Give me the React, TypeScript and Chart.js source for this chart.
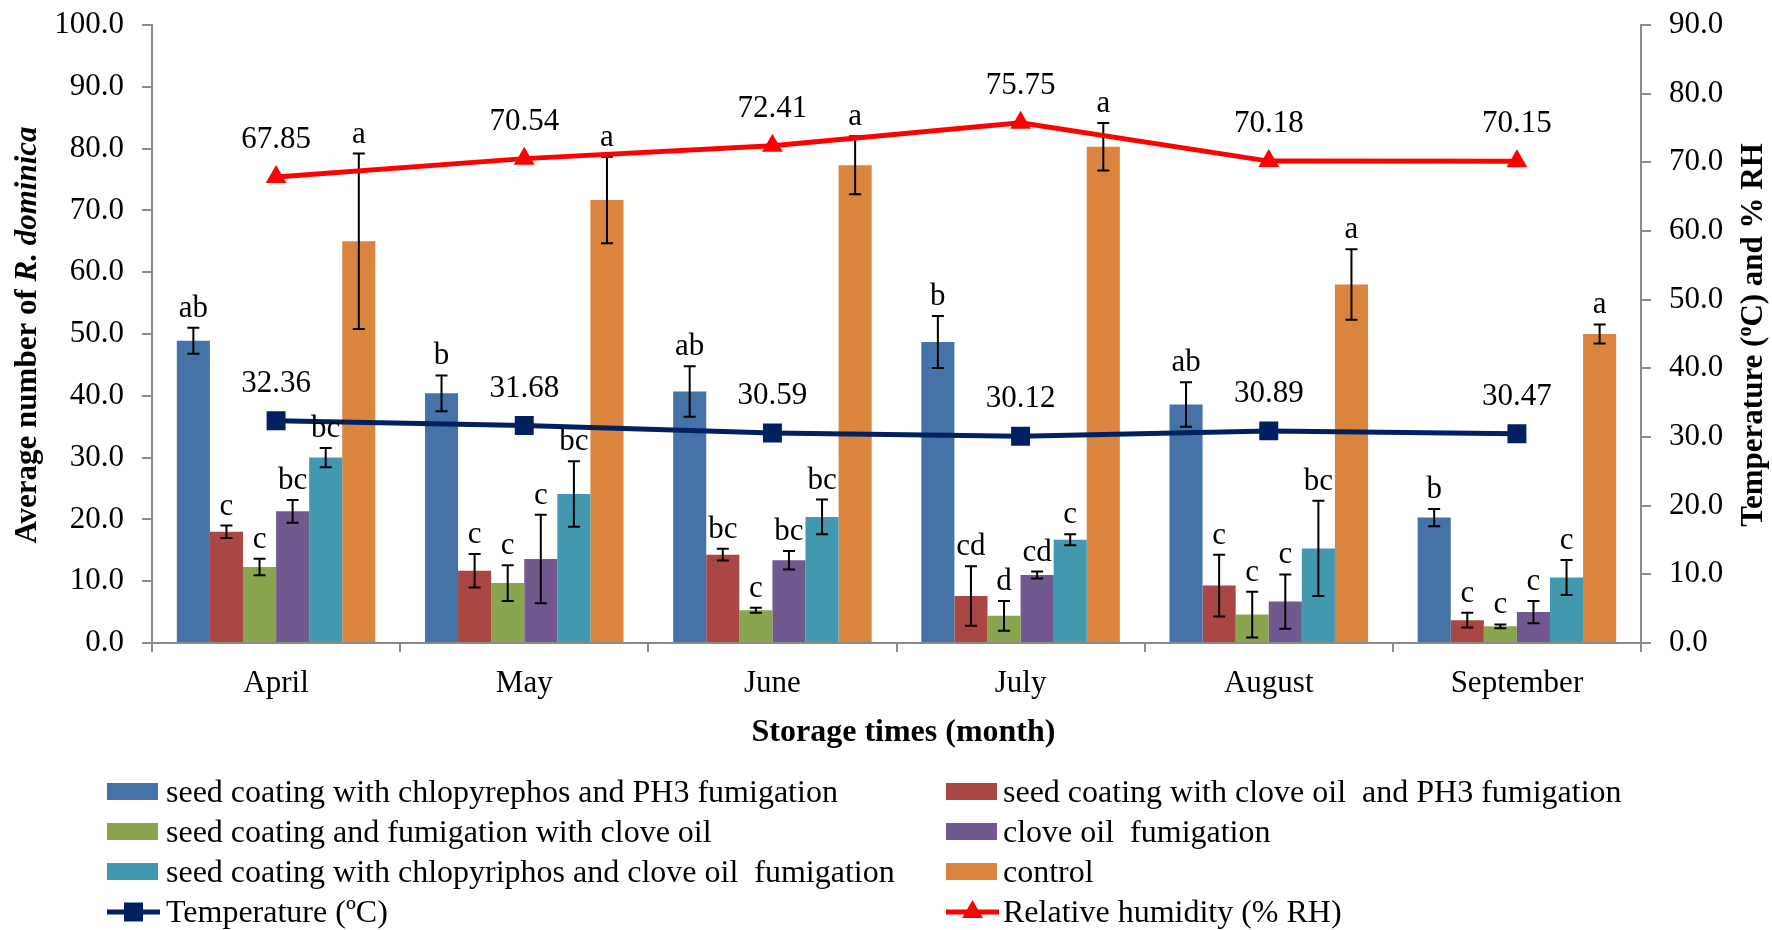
import React, { useEffect, useRef } from 'react';
import { Chart, registerables } from 'chart.js';

Chart.register(...registerables);

const FONT = '"Liberation Serif", "Times New Roman", Times, serif';
const AXIS = '#8a8a8a';

const months = ['April', 'May', 'June', 'July', 'August', 'September'];

const seriesNames = [
  'seed coating with chlopyrephos and PH3 fumigation',
  'seed coating with clove oil  and PH3 fumigation',
  'seed coating and fumigation with clove oil',
  'clove oil  fumigation',
  'seed coating with chlopyriphos and clove oil  fumigation',
  'control',
];
const seriesColors = ['#4572A7', '#AA4643', '#89A54E', '#71588F', '#4198AF', '#DB843D'];

const chlorPH3 = [48.9, 40.4, 40.7, 48.7, 38.6, 20.3];
const chlorPH3Err = [2.1, 2.9, 4.1, 4.2, 3.6, 1.4];
const chlorPH3Letters = ['ab', 'b', 'ab', 'b', 'ab', 'b'];

const cloveCoatPH3 = [18.0, 11.7, 14.3, 7.6, 9.3, 3.7];
const cloveCoatPH3Err = [1.0, 2.7, 0.95, 4.8, 5.0, 1.2];
const cloveCoatPH3Letters = ['c', 'c', 'bc', 'cd', 'c', 'c'];

const cloveCoatFum = [12.3, 9.7, 5.3, 4.4, 4.6, 2.7];
const cloveCoatFumErr = [1.35, 2.9, 0.4, 2.4, 3.7, 0.3];
const cloveCoatFumLetters = ['c', 'c', 'c', 'd', 'c', 'c'];

const cloveFum = [21.3, 13.6, 13.4, 11.0, 6.7, 5.0];
const cloveFumErr = [1.85, 7.15, 1.5, 0.55, 4.4, 1.8];
const cloveFumLetters = ['bc', 'c', 'bc', 'cd', 'c', 'c'];

const chlorClove = [30.0, 24.1, 20.4, 16.7, 15.3, 10.6];
const chlorCloveErr = [1.55, 5.3, 2.8, 0.9, 7.7, 2.85];
const chlorCloveLetters = ['bc', 'bc', 'bc', 'c', 'bc', 'c'];

const control = [65.0, 71.7, 77.3, 80.3, 58.0, 50.0];
const controlErr = [14.2, 7.0, 4.7, 3.85, 5.7, 1.55];
const controlLetters = ['a', 'a', 'a', 'a', 'a', 'a'];

const temperature = [32.36, 31.68, 30.59, 30.12, 30.89, 30.47];
const humidity = [67.85, 70.54, 72.41, 75.75, 70.18, 70.15];

const barValues = [chlorPH3, cloveCoatPH3, cloveCoatFum, cloveFum, chlorClove, control];
const barErrors = [chlorPH3Err, cloveCoatPH3Err, cloveCoatFumErr, cloveFumErr, chlorCloveErr, controlErr];
const barLetters = [chlorPH3Letters, cloveCoatPH3Letters, cloveCoatFumLetters, cloveFumLetters, chlorCloveLetters, controlLetters];

const W = 1772;
const H = 930;

const overlayPlugin = {
  id: 'overlay',
  afterDatasetDraw(chart: any, args: any) {
    const ds = chart.data.datasets[args.index];
    if (!ds.errors) return;
    const ctx = chart.ctx;
    const ys = chart.scales.y;
    ctx.save();
    ctx.strokeStyle = '#000';
    ctx.lineWidth = 2;
    args.meta.data.forEach((bar: any, i: number) => {
      const v = ds.data[i];
      const e = ds.errors[i];
      const top = ys.getPixelForValue(v + e);
      const bot = ys.getPixelForValue(Math.max(v - e, 0));
      const x = bar.x;
      ctx.beginPath();
      ctx.moveTo(x, top);
      ctx.lineTo(x, bot);
      ctx.moveTo(x - 6, top);
      ctx.lineTo(x + 6, top);
      ctx.moveTo(x - 6, bot);
      ctx.lineTo(x + 6, bot);
      ctx.stroke();
    });
    ctx.restore();
  },
  afterDatasetsDraw(chart: any) {
    const ctx = chart.ctx;
    ctx.save();
    ctx.fillStyle = '#000';
    ctx.font = `31px ${FONT}`;
    ctx.textAlign = 'center';
    chart.data.datasets.forEach((ds: any, di: number) => {
      const meta = chart.getDatasetMeta(di);
      if (ds.letters) {
        ctx.textBaseline = 'alphabetic';
        meta.data.forEach((bar: any, i: number) => {
          const top = chart.scales.y.getPixelForValue(ds.data[i] + ds.errors[i]);
          ctx.fillText(ds.letters[i], bar.x, top - 11);
        });
      } else if (ds.type === 'line') {
        ctx.textBaseline = 'middle';
        meta.data.forEach((pt: any, i: number) => {
          ctx.fillText(Number(ds.data[i]).toFixed(2), pt.x, pt.y - 37);
        });
      }
    });
    ctx.restore();
  },
  afterDraw(chart: any) {
    const ctx = chart.ctx;
    const area = chart.chartArea;
    ctx.save();
    ctx.fillStyle = '#000';
    ctx.textBaseline = 'alphabetic';

    // left axis title
    ctx.save();
    ctx.translate(36, 335);
    ctx.rotate(-Math.PI / 2);
    const p1 = 'Average number of ';
    const p2 = 'R. dominica';
    ctx.font = `bold 31px ${FONT}`;
    const w1 = ctx.measureText(p1).width;
    ctx.font = `italic bold 31px ${FONT}`;
    const w2 = ctx.measureText(p2).width;
    const sx = -(w1 + w2) / 2;
    ctx.textAlign = 'left';
    ctx.font = `bold 31px ${FONT}`;
    ctx.fillText(p1, sx, 0);
    ctx.font = `italic bold 31px ${FONT}`;
    ctx.fillText(p2, sx + w1, 0);
    ctx.restore();

    // right axis title
    ctx.save();
    ctx.translate(1762, 335);
    ctx.rotate(-Math.PI / 2);
    const r1 = 'Temperature (';
    const rs = 'o';
    const r2 = 'C) and % RH';
    ctx.font = `bold 31px ${FONT}`;
    const rw1 = ctx.measureText(r1).width;
    const rw2 = ctx.measureText(r2).width;
    ctx.font = `bold 20px ${FONT}`;
    const rws = ctx.measureText(rs).width;
    const rx = -(rw1 + rws + rw2) / 2;
    ctx.textAlign = 'left';
    ctx.font = `bold 31px ${FONT}`;
    ctx.fillText(r1, rx, 0);
    ctx.font = `bold 20px ${FONT}`;
    ctx.fillText(rs, rx + rw1, -11);
    ctx.font = `bold 31px ${FONT}`;
    ctx.fillText(r2, rx + rw1 + rws, 0);
    ctx.restore();

    // x axis title
    ctx.font = `bold 32px ${FONT}`;
    ctx.textAlign = 'center';
    ctx.fillText('Storage times (month)', (area.left + area.right) / 2 + 7, 741);

    // legend
    ctx.textAlign = 'left';
    ctx.font = `32px ${FONT}`;
    chart.data.datasets.forEach((ds: any, k: number) => {
      const row = Math.floor(k / 2);
      const col = k % 2;
      const base = 802 + 40 * row;
      const sx0 = col ? 946 : 107;
      const tx = col ? 1003 : 166;
      if (ds.type === 'line') {
        const cy = base - 10;
        ctx.strokeStyle = ds.borderColor;
        ctx.lineWidth = 5;
        ctx.beginPath();
        ctx.moveTo(sx0, cy);
        ctx.lineTo(sx0 + 53, cy);
        ctx.stroke();
        ctx.fillStyle = ds.borderColor;
        const cx = sx0 + 26.5;
        if (ds.pointStyle === 'rect') {
          ctx.fillRect(cx - 9.5, cy - 9.5, 19, 19);
        } else {
          ctx.beginPath();
          ctx.moveTo(cx, cy - 12);
          ctx.lineTo(cx + 10.4, cy + 6);
          ctx.lineTo(cx - 10.4, cy + 6);
          ctx.closePath();
          ctx.fill();
        }
      } else {
        ctx.fillStyle = ds.backgroundColor;
        ctx.fillRect(sx0, base - 19, 51, 17);
      }
      ctx.fillStyle = '#000';
      ctx.fillText(ds.label, tx, base);
    });
    ctx.restore();
  },
};

export default function App() {
  const canvasRef = useRef<HTMLCanvasElement | null>(null);

  useEffect(() => {
    if (!canvasRef.current) return;
    const barDatasets = barValues.map((vals, i) => ({
      type: 'bar' as const,
      label: seriesNames[i],
      data: vals,
      errors: barErrors[i],
      letters: barLetters[i],
      backgroundColor: seriesColors[i],
      borderWidth: 0,
      categoryPercentage: 0.8,
      barPercentage: 1.0,
      yAxisID: 'y',
      order: 1,
    }));
    const lineDatasets = [
      {
        type: 'line' as const,
        label: 'Temperature (ºC)',
        data: temperature,
        borderColor: '#002060',
        backgroundColor: '#002060',
        borderWidth: 5,
        pointStyle: 'rect',
        pointRadius: 13.4,
        pointBackgroundColor: '#002060',
        pointBorderColor: '#002060',
        pointBorderWidth: 0,
        yAxisID: 'y1',
        order: 0,
        tension: 0,
      },
      {
        type: 'line' as const,
        label: 'Relative humidity (% RH)',
        data: humidity,
        borderColor: '#FF0000',
        backgroundColor: '#FF0000',
        borderWidth: 5,
        pointStyle: 'triangle',
        pointRadius: 12,
        pointBackgroundColor: '#FF0000',
        pointBorderColor: '#FF0000',
        pointBorderWidth: 0,
        yAxisID: 'y1',
        order: 0,
        tension: 0,
      },
    ];

    const tickFont = { family: FONT, size: 31 };
    const fitY = (width: number) => (s: any) => {
      s.width = width;
      s.paddingTop = 0;
      s.paddingBottom = 0;
    };
    const chart = new Chart(canvasRef.current, {
      type: 'bar',
      data: {
        labels: months,
        datasets: [...barDatasets, ...lineDatasets] as any,
      },
      options: {
        responsive: false,
        animation: false,
        devicePixelRatio: 1,
        layout: { padding: { top: 25, left: 0, right: 0, bottom: 0 } },
        plugins: {
          legend: { display: false },
          tooltip: { enabled: false },
          title: { display: false },
        },
        scales: {
          x: {
            offset: true,
            grid: {
              offset: true,
              drawOnChartArea: false,
              drawTicks: true,
              tickLength: 9,
              color: AXIS,
              lineWidth: 2,
            },
            border: { color: AXIS, width: 2 },
            ticks: { font: tickFont, color: '#000', padding: 13, maxRotation: 0, autoSkip: false },
            afterFit: (s: any) => {
              s.height = H - 643;
              s.paddingLeft = 0;
              s.paddingRight = 0;
            },
          },
          y: {
            position: 'left',
            min: 0,
            max: 100,
            ticks: {
              stepSize: 10,
              autoSkip: false,
              font: tickFont,
              color: '#000',
              padding: 18,
              callback: (v: any) => Number(v).toFixed(1),
            },
            grid: { drawOnChartArea: false, tickLength: 10, color: AXIS, lineWidth: 2 },
            border: { color: AXIS, width: 2 },
            afterFit: fitY(152),
          },
          y1: {
            position: 'right',
            min: 0,
            max: 90,
            ticks: {
              stepSize: 10,
              autoSkip: false,
              font: tickFont,
              color: '#000',
              padding: 18,
              callback: (v: any) => Number(v).toFixed(1),
            },
            grid: { drawOnChartArea: false, tickLength: 10, color: AXIS, lineWidth: 2 },
            border: { color: AXIS, width: 2 },
            afterFit: fitY(W - 1641),
          },
        },
      } as any,
      plugins: [overlayPlugin],
    });
    return () => chart.destroy();
  }, []);

  return (
    <div style={{ position: 'fixed', left: 0, top: 0, width: W, height: H, background: '#fff' }}>
      <canvas ref={canvasRef} width={W} height={H} style={{ width: W, height: H, display: 'block' }} />
    </div>
  );
}
